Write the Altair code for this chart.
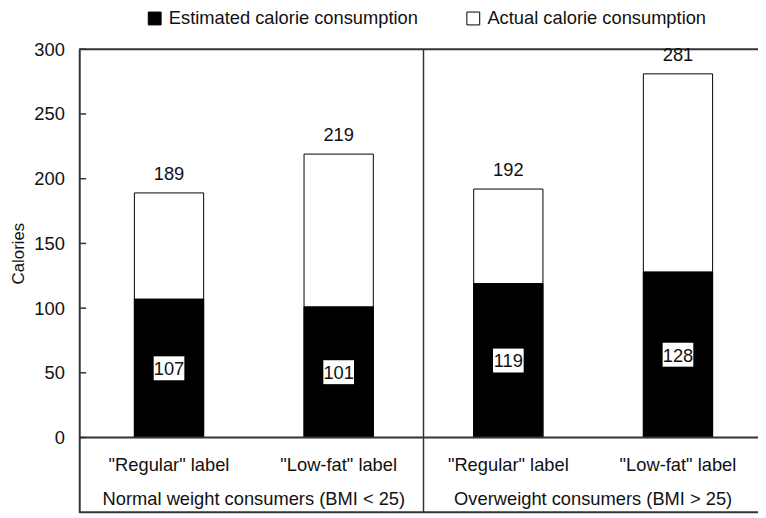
import altair as alt
import pandas as pd

# ---- data ----
groups = ["Normal weight consumers (BMI < 25)", "Overweight consumers (BMI > 25)"]
labels = ['"Regular" label', '"Low-fat" label', '"Regular" label', '"Low-fat" label']
bar_group = [0, 0, 1, 1]
estimated = [107, 101, 119, 128]
actual = [189, 219, 192, 281]
series = ["Estimated calorie consumption", "Actual calorie consumption"]
y_ticks = [0, 50, 100, 150, 200, 250, 300]

FONT = "Liberation Sans"
FS = 18.5
INK = "#111111"
LINE = "#333333"

W, H = 686, 468
Y_MIN = -57.8

pos = [i + 0.5 for i in range(len(labels))]
bars = pd.DataFrame({"pos": pos, "label": labels, "estimated": estimated,
                     "actual": actual, "group": bar_group})
long = pd.concat([
    pd.DataFrame({"pos": pos, "series": series[1], "value": actual}),
    pd.DataFrame({"pos": pos, "series": series[0], "value": estimated}),
], ignore_index=True)
group_df = pd.DataFrame({
    "group": groups,
    "pos": [bars.loc[bars.group == g, "pos"].mean() for g in range(len(groups))],
})
divider_df = pd.DataFrame({"x": [float(sum(1 for g in bar_group if g == 0))]})
tick_df = pd.DataFrame({"tick": y_ticks})
hrule_df = pd.DataFrame({"y": [max(y_ticks), 0, Y_MIN]})

xs = alt.Scale(domain=[0, W / 174.0], nice=False, zero=False)
ys = alt.Scale(domain=[Y_MIN, 300], nice=False, zero=False)

yaxis = alt.Axis(values=y_ticks, title="Calories", titleFontSize=17,
                 titleFontWeight="normal", titleColor=INK, titleX=-61, titleY=206,
                 titleAlign="center", titleBaseline="middle",
                 labelFontSize=FS, labelColor=INK, labelPadding=15, ticks=False,
                 domainColor=LINE, domainWidth=2, grid=False)


def Y(field):
    return alt.Y(field, scale=ys, axis=yaxis, title="Calories")


def X(field):
    return alt.X(field, scale=xs, axis=None)


bar_layer = alt.Chart(long).mark_bar(width=70, stroke="black", strokeWidth=1).encode(
    x=X("pos:Q"),
    y=alt.Y("value:Q", scale=ys, stack=None, axis=yaxis, title="Calories"),
    color=alt.Color("series:N", scale=alt.Scale(domain=series, range=["black", "white"]),
                    legend=alt.Legend(orient="none", legendX=67, legendY=-40.5,
                                      direction="horizontal", title=None,
                                      symbolType="square", symbolSize=169,
                                      symbolStrokeColor="black", symbolStrokeWidth=1,
                                      labelFontSize=FS, labelColor=INK, labelOffset=5,
                                      labelLimit=600, columnPadding=46, padding=0)),
)

inner_ticks = alt.Chart(tick_df).mark_rule(color=LINE, strokeWidth=1.5).encode(
    x=alt.value(0), x2=alt.value(7),
    y=Y("tick:Q"),
)

h_rules = alt.Chart(hrule_df).mark_rule(color=LINE, strokeWidth=2).encode(
    x=alt.value(0), x2=alt.value(W),
    y=Y("y:Q"),
)
div_rule = alt.Chart(divider_df).mark_rule(color=LINE, strokeWidth=1.5).encode(
    x=X("x:Q"),
    y=alt.value(0), y2=alt.value(H),
)

top_text = alt.Chart(bars).mark_text(fontSize=FS, baseline="alphabetic", dy=-13,
                                     color=INK, font=FONT).encode(
    x=X("pos:Q"),
    y=Y("actual:Q"),
    text="actual:Q",
)

box = alt.Chart(bars).transform_calculate(mid="datum.estimated / 2").mark_point(
    shape="M-1,-0.78L1,-0.78L1,0.78L-1,0.78Z", size=961, filled=True,
    color="white", opacity=1).encode(
    x=X("pos:Q"),
    y=Y("mid:Q"),
)
inner_text = alt.Chart(bars).transform_calculate(mid="datum.estimated / 2").mark_text(
    fontSize=FS, baseline="middle", dy=1, color=INK, font=FONT).encode(
    x=X("pos:Q"),
    y=Y("mid:Q"),
    text="estimated:Q",
)

cat_text = alt.Chart(bars).mark_text(fontSize=FS, baseline="alphabetic",
                                     color=INK, font=FONT).encode(
    x=X("pos:Q"),
    y=alt.value(426),
    text="label:N",
)
grp_text = alt.Chart(group_df).mark_text(fontSize=FS, baseline="alphabetic",
                                         color=INK, font=FONT).encode(
    x=X("pos:Q"),
    y=alt.value(460.5),
    text="group:N",
)

chart = alt.layer(
    bar_layer, inner_ticks, h_rules, div_rule,
    top_text, box, inner_text, cat_text, grp_text,
).properties(
    width=W, height=H,
    autosize=alt.AutoSizeParams(type="none"),
    padding={"left": 72, "top": 39, "right": 0, "bottom": 3},
).configure(font=FONT).configure_view(stroke=None)

chart.save("out.html", embed_options={"renderer": "svg", "actions": False})
